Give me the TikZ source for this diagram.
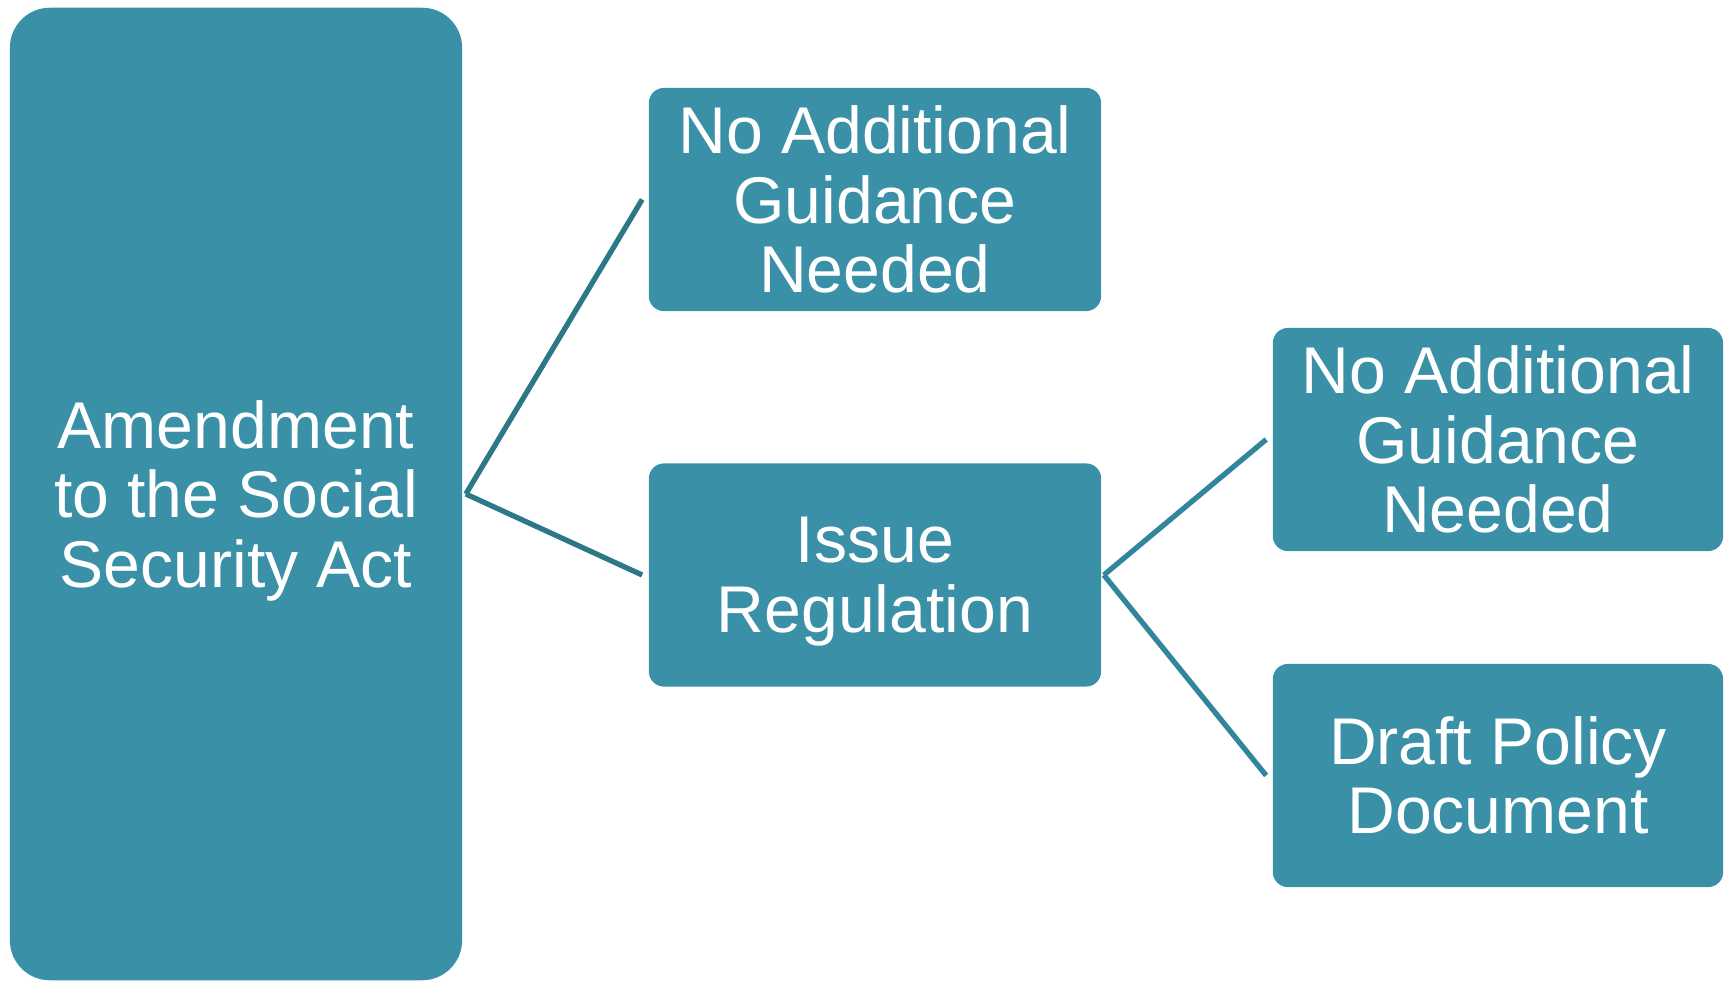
\documentclass[tikz,border=0pt]{standalone}
\usepackage{fontspec}
\setmainfont{Liberation Sans}
\usetikzlibrary{calc}
\definecolor{boxfill}{RGB}{58,144,167}
\definecolor{linkdark}{RGB}{45,120,136}
\definecolor{linklight}{RGB}{50,134,156}
\begin{document}
\begin{tikzpicture}[x=0.01cm,y=-0.01cm,
  box/.style={fill=boxfill, text=white, rounded corners=0.15cm,
    minimum width=4.52cm, minimum height=2.23cm, inner sep=0pt,
    align=center, font=\fontsize{18.8pt}{19.8pt}\selectfont},
  link/.style={line width=1.5pt}]
\useasboundingbox (0,0) rectangle (1726,982);
\node[box, minimum height=9.72cm, rounded corners=0.4cm] (act) at (236,494)
  {Amendment\\to the Social\\\smash{Security Act}};
\node[box] (none1) at (875,199.5) {No Additional\\Guidance\\Needed};
\node[box] (reg) at (875,575) {Issue\\\smash{Regulation}};
\node[box, minimum width=4.50cm] (none2) at (1498,439.5) {No Additional\\Guidance\\Needed};
\node[box, minimum width=4.50cm] (draft) at (1498,775.5) {Draft Policy\\Document};
\draw[link, linkdark] ($(act.east)+(3,0)$) -- ($(none1.west)+(-6,0)$);
\draw[link, linkdark] ($(act.east)+(3,0)$) -- ($(reg.west)+(-6,0)$);
\draw[link, linklight] ($(reg.east)+(2,0)$) -- ($(none2.west)+(-6,0)$);
\draw[link, linklight] ($(reg.east)+(2,0)$) -- ($(draft.west)+(-6,0)$);
\end{tikzpicture}
\end{document}
